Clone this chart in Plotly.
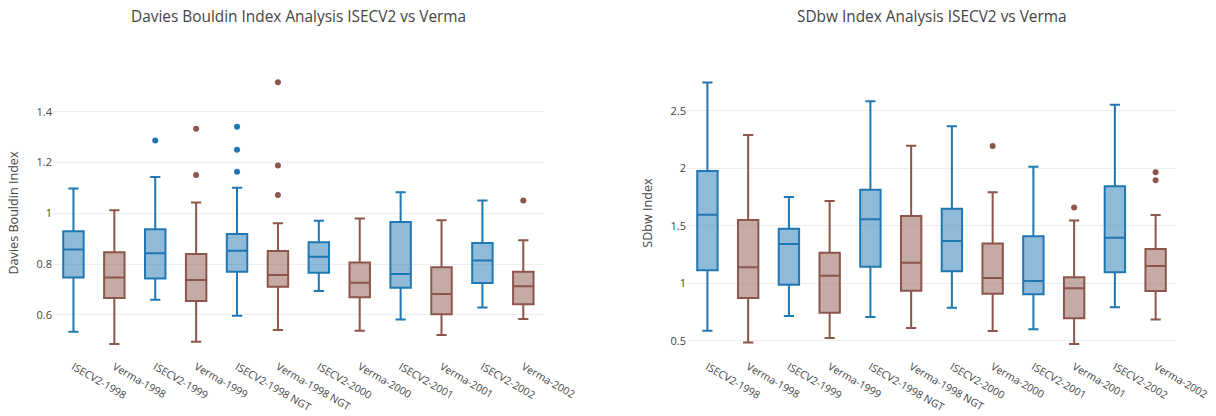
import plotly.graph_objects as go

categories = ["ISECV2-1998", "Verma-1998", "ISECV2-1999", "Verma-1999",
              "ISECV2-1998 NGT", "Verma-1998 NGT", "ISECV2-2000", "Verma-2000",
              "ISECV2-2001", "Verma-2001", "ISECV2-2002", "Verma-2002"]

# Davies Bouldin statistics
db_lower = [0.534, 0.486, 0.660, 0.495, 0.597, 0.541, 0.694, 0.538, 0.582, 0.521, 0.629, 0.584]
db_q1 = [0.748, 0.667, 0.744, 0.655, 0.770, 0.711, 0.766, 0.670, 0.707, 0.603, 0.726, 0.642]
db_median = [0.858, 0.748, 0.843, 0.738, 0.853, 0.757, 0.829, 0.727, 0.761, 0.683, 0.814, 0.713]
db_q3 = [0.930, 0.847, 0.937, 0.840, 0.919, 0.852, 0.886, 0.807, 0.966, 0.788, 0.883, 0.770]
db_upper = [1.098, 1.012, 1.143, 1.043, 1.101, 0.961, 0.971, 0.980, 1.083, 0.973, 1.051, 0.894]
db_outliers = [[], [], [1.287], [1.333, 1.151], [1.341, 1.250, 1.164],
               [1.516, 1.188, 1.072], [], [], [], [], [], [1.051]]

# SDbw statistics
sd_lower = [0.587, 0.483, 0.714, 0.523, 0.706, 0.610, 0.787, 0.584, 0.599, 0.471, 0.790, 0.683]
sd_q1 = [1.112, 0.871, 0.987, 0.743, 1.143, 0.935, 1.103, 0.909, 0.903, 0.694, 1.094, 0.932]
sd_median = [1.596, 1.138, 1.341, 1.065, 1.555, 1.178, 1.367, 1.045, 1.019, 0.955, 1.396, 1.149]
sd_q3 = [1.975, 1.549, 1.474, 1.265, 1.813, 1.584, 1.648, 1.346, 1.407, 1.051, 1.842, 1.297]
sd_upper = [2.746, 2.288, 1.749, 1.714, 2.581, 2.196, 2.364, 1.790, 2.013, 1.546, 2.552, 1.593]
sd_outliers = [[], [], [], [], [], [], [], [2.193], [], [1.657], [], [1.964, 1.894]]

BLUE = "#1f77b4"
BROWN = "#8c564b"
colors = [BLUE if c.startswith("ISECV2") else BROWN for c in categories]

fig = go.Figure()


def add_panel(lower, q1, med, q3, upper, outliers, xa, ya):
    for i, cat in enumerate(categories):
        fig.add_trace(go.Box(
            x=[cat], lowerfence=[lower[i]], q1=[q1[i]], median=[med[i]],
            q3=[q3[i]], upperfence=[upper[i]], name=cat,
            marker=dict(color=colors[i]), line=dict(color=colors[i], width=2),
            width=0.5, whiskerwidth=0.5, boxpoints=False,
            xaxis=xa, yaxis=ya, showlegend=False))
    for i, cat in enumerate(categories):
        if outliers[i]:
            fig.add_trace(go.Scatter(
                x=[cat] * len(outliers[i]), y=outliers[i], mode="markers",
                marker=dict(color=colors[i], size=6),
                xaxis=xa, yaxis=ya, showlegend=False, hoverinfo="y"))


add_panel(db_lower, db_q1, db_median, db_q3, db_upper, db_outliers, "x", "y")
add_panel(sd_lower, sd_q1, sd_median, sd_q3, sd_upper, sd_outliers, "x2", "y2")

axis_common = dict(type="category", categoryorder="array", categoryarray=categories,
                   range=[-0.5, len(categories) - 0.5],
                   tickangle=30, showgrid=False, zeroline=False, automargin=False,
                   tickfont=dict(size=10.5, color="#444"))
yaxis_common = dict(gridcolor="#eee", zeroline=False, automargin=False,
                    tickfont=dict(size=11, color="#444"))

fig.update_layout(
    template="none",
    width=1216, height=416,
    margin=dict(l=53, r=40, t=68, b=58),
    font=dict(family="Open Sans, verdana, arial, sans-serif", color="#444"),
    paper_bgcolor="white", plot_bgcolor="white",
    showlegend=False,
    xaxis=dict(domain=[0, 0.437], anchor="y", **axis_common),
    xaxis2=dict(domain=[0.5646, 1], anchor="y2", **axis_common),
    yaxis=dict(anchor="x", range=[0.4307, 1.572],
               title=dict(text="Davies Bouldin Index", font=dict(size=12.6, color="#444")),
               **yaxis_common),
    yaxis2=dict(anchor="x2", range=[0.3493, 2.871],
                title=dict(text="SDbw Index", font=dict(size=12.6, color="#444")),
                **yaxis_common),
    annotations=[
        dict(text="Davies Bouldin Index Analysis ISECV2 vs Verma", x=0.2185, y=1.1759,
             xref="paper", yref="paper", xanchor="center", yanchor="middle",
             showarrow=False, font=dict(size=15.4, color="#444")),
        dict(text="SDbw Index Analysis ISECV2 vs Verma", x=0.7823, y=1.1759,
             xref="paper", yref="paper", xanchor="center", yanchor="middle",
             showarrow=False, font=dict(size=15.4, color="#444")),
    ],
)

fig.write_html("out.html", config={"displayModeBar": False},
               post_script="document.body.style.margin='0px';")
